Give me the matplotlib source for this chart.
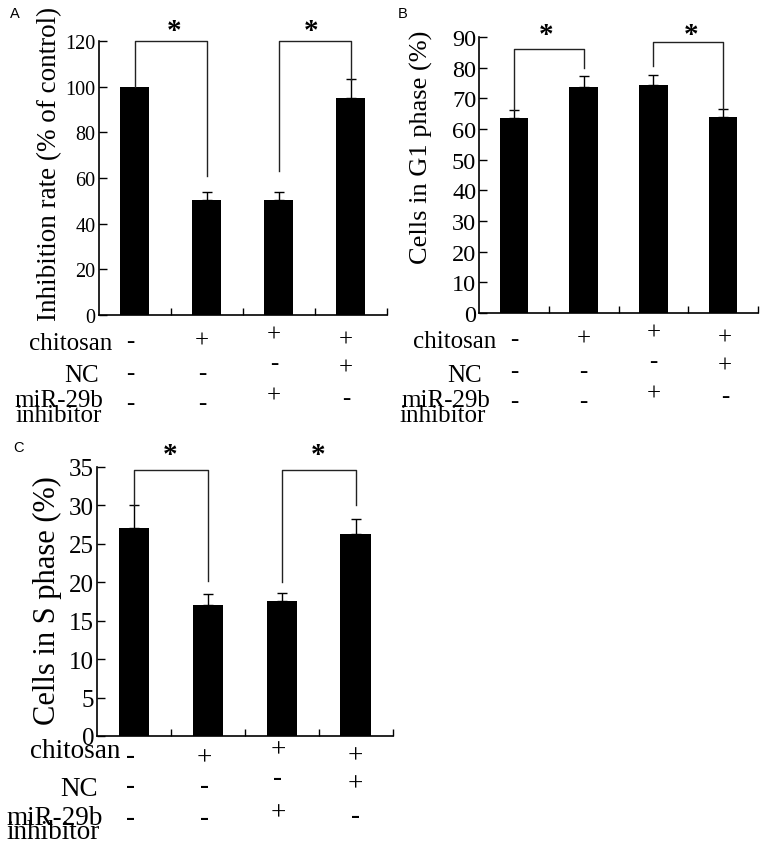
import matplotlib
matplotlib.use("Agg")
import matplotlib.pyplot as plt
from matplotlib.transforms import blended_transform_factory

plt.rcParams['font.family'] = ['Liberation Serif', 'DejaVu Serif']

# values
a_values = [100, 50.3, 50.3, 95.2]
a_errors = [0, 3.4, 3.4, 8.0]
b_values = [63.6, 73.6, 74.4, 63.9]
b_errors = [2.5, 3.7, 3.3, 2.5]
c_values = [27.0, 17.1, 17.6, 26.3]
c_errors = [3.1, 1.4, 1.0, 1.9]

a_ylabel = "Inhibition rate (% of control)"
b_ylabel = "Cells in G1 phase (%)"
c_ylabel = "Cells in S phase (%)"

row_labels = ["chitosan", "NC", "miR-29b", "inhibitor"]
chitosan_signs = ["-", "+", "+", "+"]
nc_signs = ["-", "-", "-", "+"]
mir_signs = ["-", "-", "+", "-"]

# brackets: (x_left, x_right, top, left_end, right_end)
a_brackets = [(0, 1, 120, 100, 61), (2, 3, 120, 63, 103)]
b_brackets = [(0, 1, 86, 66.1, 80), (2, 3, 88.5, 80.5, 66.4)]
c_brackets = [(0, 1, 34.65, 30.1, 20.2), (2, 3, 34.65, 20, 30.1)]

W, H = 766, 853
fig = plt.figure(figsize=(W / 100, H / 100), dpi=100)


def px_axes(left, right_px, bottom, top):
    """axes rect from pixel coords (left, right, baseline y, top y)"""
    return [left / W, (H - bottom) / H, (right_px - left) / W, (bottom - top) / H]


def draw_panel(rect, values, errors, ylim, yticks, ylabel, ylabel_pos,
               brackets, star_x, star_y, letter, letter_xy, lab, fs):
    ax = fig.add_axes(rect)
    x = list(range(len(values)))
    ax.bar(x, values, width=0.41, color='black', zorder=2)
    err_x = [i for i in x if errors[i] > 0]
    ax.errorbar(err_x, [values[i] for i in err_x],
                yerr=[[0] * len(err_x), [errors[i] for i in err_x]],
                fmt='none', ecolor='black', elinewidth=1.0, capsize=3.6,
                capthick=1.0, zorder=3)

    for x0, x1, top, e0, e1 in brackets:
        ax.plot([x0, x0, x1, x1], [e0, top, top, e1], color='#222222',
                lw=1.0, clip_on=False, zorder=4)
    for sx in star_x:
        ax.text(sx, star_y, "*", fontsize=21, fontweight='bold', ha='center',
                va='baseline', clip_on=False)

    ax.set_xlim(-0.5, 3.5)
    ax.set_ylim(*ylim)
    ax.set_yticks(yticks)
    ax.set_xticks([])
    ax.set_xticks([0.5, 1.5, 2.5, 3.5], minor=True)
    ax.tick_params(axis='x', which='minor', direction='in', length=5,
                   width=1.0, labelbottom=False)
    ax.tick_params(axis='y', direction='in', length=6, width=1.0,
                   labelsize=fs['tick'], pad=2)
    for s in ['top', 'right']:
        ax.spines[s].set_visible(False)
    for s in ['left', 'bottom']:
        ax.spines[s].set_linewidth(1.2)

    ax.set_ylabel(ylabel, fontsize=fs['ylabel'])
    ax.yaxis.set_label_coords(*ylabel_pos)

    # condition table under the axis
    bb = ax.get_position()
    hpx = bb.height * H
    wpx = bb.width * W
    tr = blended_transform_factory(ax.transData, ax.transAxes)
    for i, (lx, ly) in enumerate(zip(lab['label_x'], lab['label_y'])):
        ax.text(lx / wpx, -ly / hpx, row_labels[i], transform=ax.transAxes,
                fontsize=fs['row'], ha='right', va='baseline')
    rows = [chitosan_signs, nc_signs, mir_signs]
    for r, signs in enumerate(rows):
        for i, s in enumerate(signs):
            ax.text(i + lab['dx'][i], -lab['sign_y'][r][i] / hpx, s,
                    transform=tr, fontsize=fs['row'], ha='center',
                    va='baseline')

    fig.text(letter_xy[0] / W, 1 - letter_xy[1] / H, letter,
             family='Liberation Sans', fontsize=10.5, ha='center',
             va='center')
    return ax


lab_ab = dict(label_x=[13.5, 0, 4.5, 3.5], label_y=[34, 66, 91, 106],
              dx=[-0.06, -0.06, -0.06, -0.06],
              sign_y=[[32, 32, 26, 31], [64, 64, 54, 59], [94, 94, 87, 89]])
lab_b = dict(label_x=[17, 3, 11, 7], label_y=[34, 68, 93, 108],
             dx=[0.0, 0.0, 0.0, 0.03],
             sign_y=[[32, 32, 26, 31], [64, 64, 54, 59], [94, 94, 87, 89]])
lab_c = dict(label_x=[23, 1, 6, 3], label_y=[21, 59, 88, 102],
             dx=[-0.05, -0.05, -0.05, 0.0],
             sign_y=[[26, 28, 20, 26], [56, 56, 48, 54], [88, 88, 83, 86]])

draw_panel(px_axes(98.5, 386.5, 316, 42), a_values, a_errors, (0, 120),
           range(0, 121, 20), a_ylabel, (-0.127, 0.555), a_brackets,
           [0.55, 2.45], 121.5, "A", (15, 14), lab_ab,
           dict(tick=14.5, ylabel=19.5, row=18))
draw_panel(px_axes(479, 758, 314, 38), b_values, b_errors, (0, 90),
           range(0, 91, 10), b_ylabel, (-0.165, 0.605), b_brackets,
           [0.46, 2.54], 88.5, "B", (403, 14), lab_b,
           dict(tick=17.5, ylabel=19, row=18))
draw_panel(px_axes(97, 392.5, 737, 468), c_values, c_errors, (0, 35),
           range(0, 36, 5), c_ylabel, (-0.118, 0.506), c_brackets,
           [0.49, 2.49], 35.7, "C", (18, 448), lab_c,
           dict(tick=18, ylabel=22, row=19.5))

fig.savefig("out.png", dpi=100)
